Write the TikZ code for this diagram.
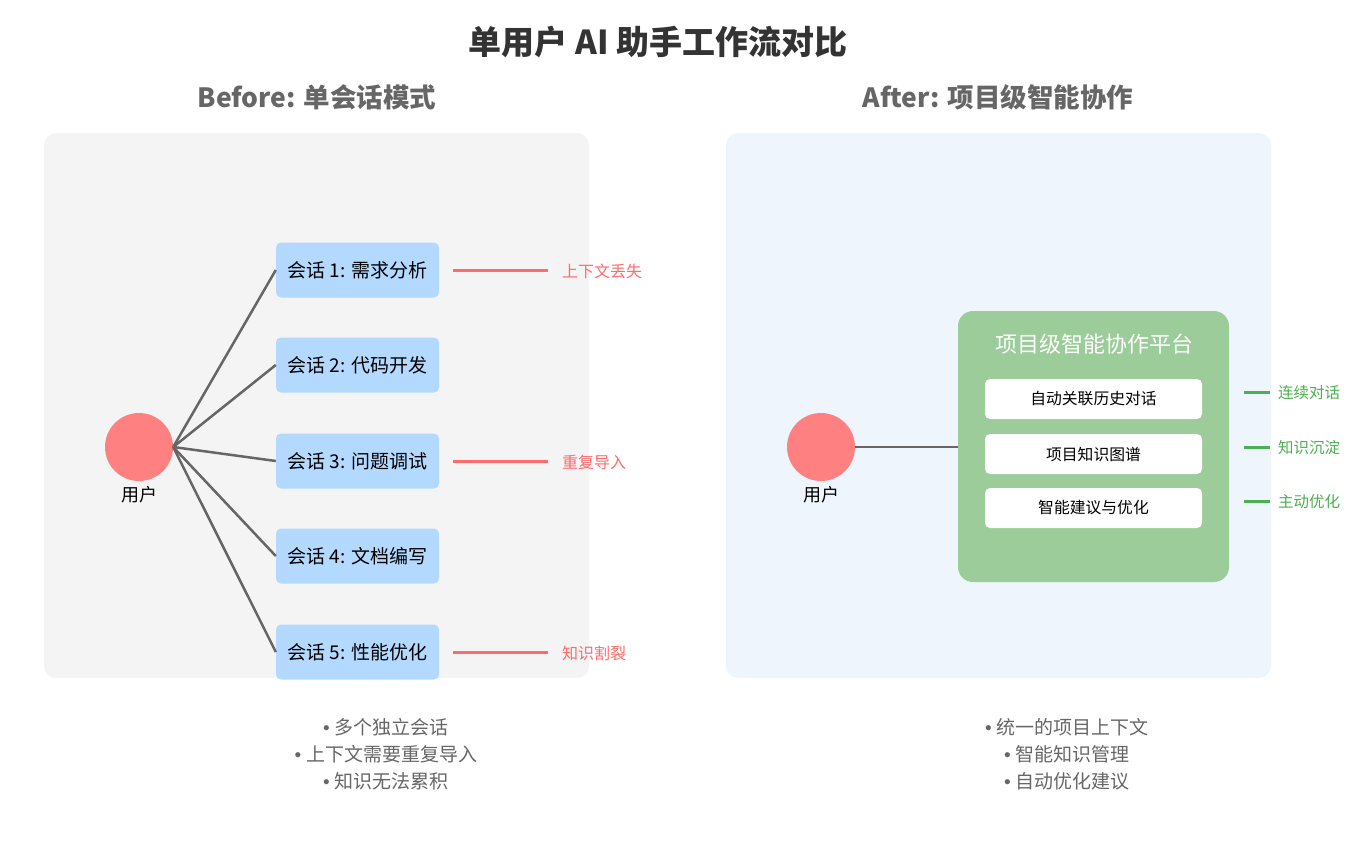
\documentclass[tikz,border=0pt]{standalone}
\usepackage{fontspec}
\setmainfont{Noto Sans CJK SC}
\newfontfamily\latfont{Liberation Sans}
\newcommand{\bul}{{\latfont •\ }}
\definecolor{panelL}{HTML}{F4F4F4}
\definecolor{panelR}{HTML}{EEF5FD}
\definecolor{sessfill}{HTML}{B3D9FF}
\definecolor{userfill}{HTML}{FF8080}
\definecolor{linegray}{HTML}{666666}
\definecolor{warnred}{HTML}{FF6B6B}
\definecolor{okgreen}{HTML}{4CAF50}
\definecolor{platgreen}{HTML}{9BCC99}
\definecolor{titlegray}{HTML}{333333}
\tikzset{
  titletext/.style={font=\bfseries\fontsize{33}{36}\selectfont, text=titlegray, inner sep=0},
  subtext/.style={font=\bfseries\fontsize{26.5}{30}\selectfont, text=linegray, inner sep=0},
  panel/.style={rounded corners=12pt, minimum width=545pt, minimum height=545pt, inner sep=0},
  sess/.style={fill=sessfill, rounded corners=5pt, minimum width=163pt, minimum height=55pt, inner sep=0, font=\fontsize{19}{22}\selectfont},
  user/.style={circle, fill=userfill, minimum size=68pt, inner sep=0},
  userlabel/.style={font=\fontsize{18}{20}\selectfont, inner sep=0},
  conn/.style={draw=linegray, line width=2.5pt},
  redline/.style={draw=warnred, line width=3pt},
  redlabel/.style={text=warnred, font=\fontsize{16}{18}\selectfont, anchor=west, inner sep=0},
  greenline/.style={draw=okgreen, line width=3pt},
  greenlabel/.style={text=okgreen, font=\fontsize{15.5}{18}\selectfont, anchor=west, inner sep=0},
  plat/.style={fill=platgreen, rounded corners=15pt, minimum width=271pt, minimum height=271pt, inner sep=0},
  feat/.style={fill=white, rounded corners=5pt, minimum width=217pt, minimum height=40pt, inner sep=0, font=\fontsize{15.8}{18}\selectfont},
  bullets/.style={text=linegray, font=\fontsize{19}{27}\selectfont, align=center, inner sep=0}
}
\begin{document}
\begin{tikzpicture}[x=1pt,y=-1pt]
\useasboundingbox (0,0) rectangle (1350,859);
% titles
\node[titletext] (title) at (658,42) {单用户 AI 助手工作流对比};
\node[subtext] (subL) at (317,97) {Before: 单会话模式};
\node[subtext] (subR) at (998,97) {After: 项目级智能协作};
% panels
\node[panel, fill=panelL] (pL) at (316.5,405.5) {};
\node[panel, fill=panelR] (pR) at (998.5,405.5) {};
% left side
\node[user] (u1) at (139,447) {};
\node[userlabel] (u1l) at (139,495) {用户};
\node[sess] (b1) at (357.5,270) {会话 1: 需求分析};
\node[sess] (b2) at (357.5,365) {会话 2: 代码开发};
\node[sess] (b3) at (357.5,461) {会话 3: 问题调试};
\node[sess] (b4) at (357.5,556) {会话 4: 文档编写};
\node[sess] (b5) at (357.5,652) {会话 5: 性能优化};
\foreach \b in {b1,b2,b3,b4,b5} \draw[conn] (u1.east) -- (\b.west);
\coordinate (r1a) at (453,270); \coordinate (r1b) at (548,270);
\coordinate (r3a) at (453,461); \coordinate (r3b) at (548,461);
\coordinate (r5a) at (453,652); \coordinate (r5b) at (548,652);
\draw[redline] (r1a) -- (r1b);
\draw[redline] (r3a) -- (r3b);
\draw[redline] (r5a) -- (r5b);
\node[redlabel] (w1) at (562,271) {上下文丢失};
\node[redlabel] (w3) at (562,462) {重复导入};
\node[redlabel] (w5) at (562,653) {知识割裂};
\node[bullets] (bl) at (386,754) {\bul 多个独立会话\\\bul 上下文需要重复导入\\\bul 知识无法累积};
% right side
\node[user] (u2) at (821,447) {};
\node[userlabel] (u2l) at (821,495) {用户};
\node[plat] (pf) at (1093.5,446.5) {};
\node[text=white, font=\fontsize{22}{26}\selectfont, inner sep=0] (pft) at (1094,344) {项目级智能协作平台};
\node[feat] (f1) at (1093.5,399) {自动关联历史对话};
\node[feat] (f2) at (1093.5,454) {项目知识图谱};
\node[feat] (f3) at (1093.5,508) {智能建议与优化};
\draw[conn] (u2.east) -- (pf.west |- u2.east);
\coordinate (g1a) at (1244,392); \coordinate (g1b) at (1270,392);
\coordinate (g2a) at (1244,447); \coordinate (g2b) at (1270,447);
\coordinate (g3a) at (1244,501); \coordinate (g3b) at (1270,501);
\draw[greenline] (g1a) -- (g1b);
\draw[greenline] (g2a) -- (g2b);
\draw[greenline] (g3a) -- (g3b);
\node[greenlabel] (k1) at (1278,393) {连续对话};
\node[greenlabel] (k2) at (1278,448) {知识沉淀};
\node[greenlabel] (k3) at (1278,502) {主动优化};
\node[bullets] (br) at (1067,754) {\bul 统一的项目上下文\\\bul 智能知识管理\\\bul 自动优化建议};
\end{tikzpicture}
\end{document}
